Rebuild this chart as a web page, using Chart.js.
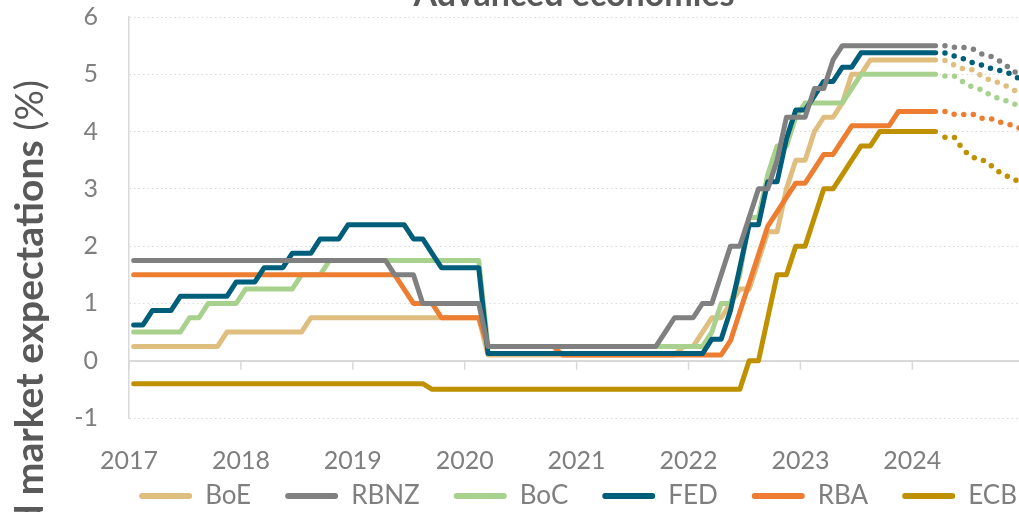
<!DOCTYPE html>
<html>
<head>
<meta charset="utf-8">
<script src="https://cdn.jsdelivr.net/npm/chart.js@4.4.1/dist/chart.umd.min.js"></script>
<style>
  html, body { margin: 0; padding: 0; background: #fff; }
  #wrap { width: 1019px; height: 512px; overflow: hidden; position: relative; }
  #ratesChart { position: absolute; left: 0; top: 0; }
</style>
</head>
<body>
<!-- canvas is a bit larger than the window: the original is cropped on the right and bottom -->
<div id="wrap"><canvas id="ratesChart" width="1056" height="519"></canvas></div>
<script>
// monthly policy rates, Jan 2017 .. Mar 2024 (one value per month)
const yearLabels = ['2017', '2018', '2019', '2020', '2021', '2022', '2023', '2024'];
const seriesNames = ['BoE', 'RBNZ', 'BoC', 'FED', 'RBA', 'ECB'];

const boe = [
  0.25, 0.25, 0.25, 0.25, 0.25, 0.25, 0.25, 0.25, 0.25, 0.25, 0.5, 0.5,
  0.5, 0.5, 0.5, 0.5, 0.5, 0.5, 0.5, 0.75, 0.75, 0.75, 0.75, 0.75,
  0.75, 0.75, 0.75, 0.75, 0.75, 0.75, 0.75, 0.75, 0.75, 0.75, 0.75, 0.75,
  0.75, 0.75, 0.1, 0.1, 0.1, 0.1, 0.1, 0.1, 0.1, 0.1, 0.1, 0.1,
  0.1, 0.1, 0.1, 0.1, 0.1, 0.1, 0.1, 0.1, 0.1, 0.1, 0.1, 0.25,
  0.25, 0.5, 0.75, 0.75, 1.0, 1.25, 1.25, 1.75, 2.25, 2.25, 3.0, 3.5,
  3.5, 4.0, 4.25, 4.25, 4.5, 5.0, 5.0, 5.25, 5.25, 5.25, 5.25, 5.25,
  5.25, 5.25, 5.25
];
const rbnz = [
  1.75, 1.75, 1.75, 1.75, 1.75, 1.75, 1.75, 1.75, 1.75, 1.75, 1.75, 1.75,
  1.75, 1.75, 1.75, 1.75, 1.75, 1.75, 1.75, 1.75, 1.75, 1.75, 1.75, 1.75,
  1.75, 1.75, 1.75, 1.75, 1.5, 1.5, 1.5, 1.0, 1.0, 1.0, 1.0, 1.0,
  1.0, 1.0, 0.25, 0.25, 0.25, 0.25, 0.25, 0.25, 0.25, 0.25, 0.25, 0.25,
  0.25, 0.25, 0.25, 0.25, 0.25, 0.25, 0.25, 0.25, 0.25, 0.5, 0.75, 0.75,
  0.75, 1.0, 1.0, 1.5, 2.0, 2.0, 2.5, 3.0, 3.0, 3.5, 4.25, 4.25,
  4.25, 4.75, 4.75, 5.25, 5.5, 5.5, 5.5, 5.5, 5.5, 5.5, 5.5, 5.5,
  5.5, 5.5, 5.5
];
const boc = [
  0.5, 0.5, 0.5, 0.5, 0.5, 0.5, 0.75, 0.75, 1.0, 1.0, 1.0, 1.0,
  1.25, 1.25, 1.25, 1.25, 1.25, 1.25, 1.5, 1.5, 1.5, 1.75, 1.75, 1.75,
  1.75, 1.75, 1.75, 1.75, 1.75, 1.75, 1.75, 1.75, 1.75, 1.75, 1.75, 1.75,
  1.75, 1.75, 0.25, 0.25, 0.25, 0.25, 0.25, 0.25, 0.25, 0.25, 0.25, 0.25,
  0.25, 0.25, 0.25, 0.25, 0.25, 0.25, 0.25, 0.25, 0.25, 0.25, 0.25, 0.25,
  0.25, 0.25, 0.5, 1.0, 1.0, 1.5, 2.5, 2.5, 3.25, 3.75, 3.75, 4.25,
  4.5, 4.5, 4.5, 4.5, 4.5, 4.75, 5.0, 5.0, 5.0, 5.0, 5.0, 5.0,
  5.0, 5.0, 5.0
];
const fed = [
  0.625, 0.625, 0.875, 0.875, 0.875, 1.125, 1.125, 1.125, 1.125, 1.125, 1.125, 1.375,
  1.375, 1.375, 1.625, 1.625, 1.625, 1.875, 1.875, 1.875, 2.125, 2.125, 2.125, 2.375,
  2.375, 2.375, 2.375, 2.375, 2.375, 2.375, 2.125, 2.125, 1.875, 1.625, 1.625, 1.625,
  1.625, 1.625, 0.125, 0.125, 0.125, 0.125, 0.125, 0.125, 0.125, 0.125, 0.125, 0.125,
  0.125, 0.125, 0.125, 0.125, 0.125, 0.125, 0.125, 0.125, 0.125, 0.125, 0.125, 0.125,
  0.125, 0.125, 0.375, 0.375, 0.875, 1.625, 2.375, 2.375, 3.125, 3.125, 3.875, 4.375,
  4.375, 4.625, 4.875, 4.875, 5.125, 5.125, 5.375, 5.375, 5.375, 5.375, 5.375, 5.375,
  5.375, 5.375, 5.375
];
const rba = [
  1.5, 1.5, 1.5, 1.5, 1.5, 1.5, 1.5, 1.5, 1.5, 1.5, 1.5, 1.5,
  1.5, 1.5, 1.5, 1.5, 1.5, 1.5, 1.5, 1.5, 1.5, 1.5, 1.5, 1.5,
  1.5, 1.5, 1.5, 1.5, 1.5, 1.25, 1.0, 1.0, 1.0, 0.75, 0.75, 0.75,
  0.75, 0.75, 0.25, 0.25, 0.25, 0.25, 0.25, 0.25, 0.25, 0.25, 0.1, 0.1,
  0.1, 0.1, 0.1, 0.1, 0.1, 0.1, 0.1, 0.1, 0.1, 0.1, 0.1, 0.1,
  0.1, 0.1, 0.1, 0.1, 0.35, 0.85, 1.35, 1.85, 2.35, 2.6, 2.85, 3.1,
  3.1, 3.35, 3.6, 3.6, 3.85, 4.1, 4.1, 4.1, 4.1, 4.1, 4.35, 4.35,
  4.35, 4.35, 4.35
];
const ecb = [
  -0.4, -0.4, -0.4, -0.4, -0.4, -0.4, -0.4, -0.4, -0.4, -0.4, -0.4, -0.4,
  -0.4, -0.4, -0.4, -0.4, -0.4, -0.4, -0.4, -0.4, -0.4, -0.4, -0.4, -0.4,
  -0.4, -0.4, -0.4, -0.4, -0.4, -0.4, -0.4, -0.4, -0.5, -0.5, -0.5, -0.5,
  -0.5, -0.5, -0.5, -0.5, -0.5, -0.5, -0.5, -0.5, -0.5, -0.5, -0.5, -0.5,
  -0.5, -0.5, -0.5, -0.5, -0.5, -0.5, -0.5, -0.5, -0.5, -0.5, -0.5, -0.5,
  -0.5, -0.5, -0.5, -0.5, -0.5, -0.5, 0, 0, 0.75, 1.5, 1.5, 2.0,
  2.0, 2.5, 3.0, 3.0, 3.25, 3.5, 3.75, 3.75, 4.0, 4.0, 4.0, 4.0,
  4.0, 4.0, 4.0
];

// market expectations, Apr 2024 .. Dec 2024
const boeExp = [5.24, 5.16, 5.09, 5.08, 4.96, 4.89, 4.84, 4.76, 4.67];
const rbnzExp = [5.50, 5.47, 5.47, 5.44, 5.35, 5.31, 5.22, 5.10, 4.98];
const bocExp = [4.97, 4.97, 4.86, 4.77, 4.73, 4.62, 4.57, 4.51, 4.44];
const fedExp = [5.37, 5.32, 5.27, 5.20, 5.16, 5.10, 5.06, 5.01, 4.92];
const rbaExp = [4.35, 4.30, 4.30, 4.30, 4.23, 4.22, 4.16, 4.12, 4.06];
const ecbExp = [3.90, 3.90, 3.67, 3.55, 3.51, 3.40, 3.27, 3.20, 3.12];

const expStart = 87; // Apr 2024, months after Jan 2017

const colors = ['#DFBE7F', '#808080', '#A9D18E', '#005E7A', '#ED7D31', '#BF9000'];
const drawOrder = [5, 1, 4, 2, 3, 6]; // lower = drawn on top

const actual = [boe, rbnz, boc, fed, rba, ecb];
const expected = [boeExp, rbnzExp, bocExp, fedExp, rbaExp, ecbExp];

const fontFamily = 'Lato, "Open Sans", sans-serif';
const axisGrey = '#7F7F7F';
const lineGrey = '#D9D9D9';
const visibleWidth = 1019;
const xMax = 98.87;

// points sit mid-month on a month-count axis
function toPoints(values, start) {
  return values.map((v, k) => ({ x: start + k + 0.5, y: v }));
}

let datasets = [];
actual.forEach((vals, i) => {
  datasets.push({
    label: seriesNames[i],
    data: toPoints(vals, 0),
    borderColor: colors[i],
    backgroundColor: colors[i],
    borderWidth: 5,
    borderJoinStyle: 'round',
    borderCapStyle: 'round',
    pointRadius: 0,
    order: drawOrder[i]
  });
});
expected.forEach((vals, i) => {
  datasets.push({
    label: seriesNames[i] + ' expectations',
    data: toPoints(vals, expStart),
    borderColor: colors[i],
    backgroundColor: colors[i],
    borderWidth: 5.5,
    borderDash: [0, 9.6],
    borderCapStyle: 'round',
    pointRadius: 0,
    order: 10 + drawOrder[i]
  });
});

// year labels sit low, over the legend band, so let them draw past the axis box
const lowLabels = {
  id: 'lowLabels',
  afterLayout(chart) {
    chart.scales.x.bottom = chart.height;
  }
};

// small year marks hanging under the zero line
const zeroTicks = {
  id: 'zeroTicks',
  beforeDatasetsDraw(chart) {
    let ctx = chart.ctx;
    let xs = chart.scales.x;
    let y0 = chart.scales.y.getPixelForValue(0);
    ctx.save();
    ctx.strokeStyle = lineGrey;
    ctx.lineWidth = 1.5;
    ctx.beginPath();
    xs.ticks.forEach(t => {
      let px = xs.getPixelForValue(t.value);
      ctx.moveTo(px, y0);
      ctx.lineTo(px, y0 + 9);
    });
    ctx.stroke();
    ctx.restore();
  }
};

const titles = {
  id: 'titles',
  afterDraw(chart) {
    let ctx = chart.ctx;
    ctx.save();
    ctx.fillStyle = '#595959';
    ctx.textBaseline = 'alphabetic';
    ctx.textAlign = 'center';
    ctx.font = 'bold 34px ' + fontFamily;
    ctx.fillText('Advanced economies', (chart.chartArea.left + visibleWidth) / 2, 6);

    // rotated y title, cut off at the left edge like the original
    ctx.translate(43, 80);
    ctx.rotate(-Math.PI / 2);
    ctx.textAlign = 'right';
    ctx.font = '38px ' + fontFamily;
    ctx.fillText(' (%)', 0, 0);
    let w = ctx.measureText(' (%)').width;
    ctx.font = 'bold 39px ' + fontFamily;
    ctx.fillText('Policy rates and market expectations', -w, 0);
    ctx.restore();
  }
};

const ctx = document.getElementById('ratesChart').getContext('2d');
new Chart(ctx, {
  type: 'line',
  data: { datasets: datasets },
  plugins: [lowLabels, zeroTicks, titles],
  options: {
    responsive: false,
    animation: false,
    layout: { autoPadding: false, padding: { top: 17, right: 5, bottom: 0, left: 0 } },
    plugins: {
      title: { display: false },
      tooltip: { enabled: false },
      legend: {
        position: 'bottom',
        align: 'end',
        labels: {
          font: { family: fontFamily, size: 26 },
          color: axisGrey,
          boxWidth: 53,
          boxHeight: 6,
          padding: 34,
          useBorderRadius: true,
          borderRadius: 3,
          generateLabels: chart => Chart.defaults.plugins.legend.labels.generateLabels(chart)
            .map(item => ({ ...item, lineWidth: 0, fillStyle: colors[item.datasetIndex] || item.fillStyle })),
          filter: item => item.datasetIndex < seriesNames.length,
          sort: (a, b) => a.datasetIndex - b.datasetIndex
        }
      }
    },
    scales: {
      x: {
        type: 'linear',
        position: 'bottom',
        min: 0,
        max: xMax,
        afterBuildTicks: s => { s.ticks = yearLabels.map((l, k) => ({ value: k * 12 })); },
        afterFit: s => { s.height = 31; },
        grid: { display: false, drawTicks: false },
        border: { display: false },
        ticks: {
          font: { family: fontFamily, size: 25 },
          color: axisGrey,
          padding: 28,
          maxRotation: 0,
          autoSkip: false,
          callback: v => yearLabels[Math.round(v / 12)]
        }
      },
      y: {
        min: -1,
        max: 6,
        afterFit: s => { s.width = 129; s.paddingTop = 0; s.paddingBottom = 0; },
        ticks: {
          stepSize: 1,
          autoSkip: false,
          font: { family: fontFamily, size: 25 },
          color: axisGrey,
          padding: 31
        },
        grid: {
          color: lineGrey,
          lineWidth: c => c.tick && c.tick.value === 0 ? 2 : 1,
          drawTicks: false
        },
        border: {
          display: true,
          color: lineGrey,
          width: 1.5,
          dash: c => c.tick && c.tick.value !== 0 ? [1.5, 3] : []
        }
      }
    }
  }
});
</script>
</body>
</html>
